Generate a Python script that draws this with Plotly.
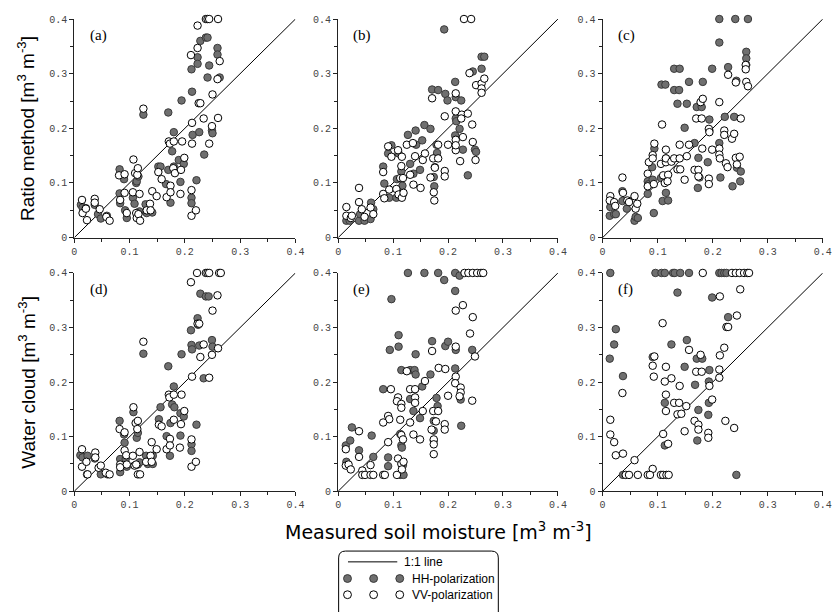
import plotly.graph_objects as go

# ---------------- data: (measured, estimated) soil moisture pairs ----------------
# Ratio method, HH / VV polarization
a_hh = [(0.012,0.060),(0.015,0.055),(0.021,0.054),(0.037,0.060),(0.043,0.043),(0.048,0.035),(0.059,0.040),
        (0.082,0.125),(0.082,0.081),(0.083,0.063),(0.090,0.107),(0.092,0.050),(0.095,0.036),(0.106,0.073),
        (0.109,0.062),(0.112,0.100),(0.113,0.103),(0.116,0.112),(0.118,0.048),(0.125,0.225),(0.129,0.061),
        (0.131,0.045),(0.141,0.046),(0.152,0.130),(0.156,0.130),(0.166,0.098),(0.170,0.229),(0.170,0.124),
        (0.174,0.064),(0.177,0.158),(0.180,0.193),(0.180,0.130),(0.189,0.142),(0.192,0.102),(0.194,0.251),
        (0.198,0.135),(0.212,0.308),(0.212,0.073),(0.212,0.063),(0.213,0.267),(0.214,0.188),(0.221,0.105),
        (0.223,0.330),(0.223,0.318),(0.226,0.193),(0.228,0.360),(0.235,0.152),(0.238,0.366),(0.241,0.366),
        (0.241,0.293),(0.244,0.315),(0.249,0.196),(0.250,0.191),(0.259,0.347),(0.259,0.335),(0.263,0.293)]
a_vv = [(0.014,0.069),(0.015,0.045),(0.021,0.053),(0.023,0.032),(0.037,0.071),(0.037,0.064),(0.046,0.052),
        (0.058,0.038),(0.064,0.031),(0.081,0.114),(0.083,0.069),(0.091,0.116),(0.091,0.082),(0.095,0.045),
        (0.107,0.143),(0.106,0.083),(0.110,0.118),(0.112,0.045),(0.113,0.036),(0.114,0.115),(0.115,0.127),
        (0.116,0.043),(0.118,0.080),(0.119,0.031),(0.125,0.236),(0.131,0.050),(0.137,0.062),(0.141,0.085),
        (0.138,0.050),(0.149,0.076),(0.152,0.120),(0.158,0.107),(0.167,0.074),(0.171,0.176),(0.173,0.172),
        (0.174,0.095),(0.174,0.083),(0.179,0.127),(0.180,0.176),(0.182,0.118),(0.192,0.080),(0.193,0.124),
        (0.195,0.176),(0.199,0.146),(0.211,0.334),(0.212,0.087),(0.212,0.040),(0.213,0.210),(0.213,0.172),
        (0.220,0.050),(0.223,0.388),(0.223,0.347),(0.225,0.246),(0.228,0.246),(0.234,0.218),(0.238,0.400),
        (0.241,0.400),(0.244,0.400),(0.244,0.172),(0.249,0.204),(0.250,0.262),(0.260,0.400),(0.260,0.219),
        (0.259,0.290),(0.263,0.323)]

b_hh = [(0.015,0.031),(0.021,0.031),(0.038,0.031),(0.040,0.043),(0.048,0.031),(0.060,0.064),(0.059,0.034),
        (0.064,0.052),(0.082,0.130),(0.084,0.099),(0.093,0.073),(0.091,0.154),(0.097,0.169),(0.106,0.073),
        (0.107,0.107),(0.110,0.154),(0.113,0.085),(0.117,0.095),(0.115,0.121),(0.118,0.080),(0.127,0.188),
        (0.131,0.135),(0.137,0.117),(0.141,0.196),(0.142,0.170),(0.149,0.124),(0.153,0.178),(0.157,0.206),
        (0.168,0.199),(0.171,0.271),(0.174,0.111),(0.175,0.094),(0.176,0.129),(0.179,0.170),(0.180,0.155),
        (0.182,0.270),(0.193,0.381),(0.195,0.263),(0.199,0.251),(0.213,0.285),(0.214,0.257),(0.214,0.218),
        (0.213,0.187),(0.215,0.213),(0.221,0.199),(0.224,0.251),(0.227,0.161),(0.236,0.114),(0.245,0.304),
        (0.249,0.161),(0.251,0.157),(0.261,0.309),(0.261,0.331),(0.266,0.331)]
b_vv = [(0.015,0.056),(0.015,0.040),(0.023,0.036),(0.025,0.040),(0.038,0.091),(0.038,0.065),(0.043,0.052),
        (0.048,0.038),(0.059,0.055),(0.064,0.043),(0.082,0.120),(0.082,0.080),(0.084,0.072),(0.091,0.167),
        (0.093,0.088),(0.097,0.148),(0.106,0.089),(0.109,0.160),(0.110,0.079),(0.113,0.109),(0.115,0.131),
        (0.116,0.148),(0.116,0.073),(0.119,0.082),(0.118,0.109),(0.125,0.170),(0.131,0.115),(0.136,0.173),
        (0.137,0.097),(0.140,0.149),(0.150,0.091),(0.154,0.142),(0.158,0.154),(0.168,0.110),(0.171,0.255),
        (0.173,0.145),(0.174,0.083),(0.175,0.068),(0.176,0.128),(0.182,0.170),(0.182,0.145),(0.194,0.222),
        (0.194,0.122),(0.194,0.112),(0.200,0.170),(0.214,0.264),(0.214,0.231),(0.214,0.179),(0.214,0.160),
        (0.214,0.169),(0.222,0.140),(0.225,0.225),(0.224,0.218),(0.227,0.184),(0.229,0.400),(0.236,0.227),
        (0.239,0.301),(0.242,0.400),(0.244,0.207),(0.245,0.175),(0.250,0.142),(0.251,0.279),(0.261,0.282),
        (0.261,0.273),(0.261,0.265),(0.266,0.291)]

c_hh = [(0.014,0.056),(0.013,0.040),(0.021,0.043),(0.024,0.043),(0.036,0.067),(0.036,0.085),(0.044,0.053),
        (0.048,0.067),(0.058,0.031),(0.060,0.038),(0.064,0.036),(0.082,0.080),(0.082,0.103),(0.084,0.098),
        (0.090,0.129),(0.091,0.106),(0.093,0.045),(0.094,0.163),(0.106,0.109),(0.107,0.280),(0.109,0.067),
        (0.114,0.280),(0.115,0.082),(0.119,0.068),(0.115,0.145),(0.130,0.309),(0.140,0.309),(0.130,0.270),
        (0.139,0.270),(0.136,0.245),(0.149,0.201),(0.153,0.245),(0.157,0.285),(0.167,0.173),(0.171,0.239),
        (0.173,0.091),(0.174,0.146),(0.176,0.110),(0.180,0.239),(0.182,0.285),(0.191,0.138),(0.194,0.216),
        (0.199,0.309),(0.212,0.400),(0.212,0.357),(0.212,0.173),(0.214,0.110),(0.228,0.312),(0.239,0.221),
        (0.236,0.094),(0.241,0.400),(0.243,0.287),(0.244,0.128),(0.250,0.103),(0.251,0.121),(0.264,0.400),
        (0.261,0.340),(0.261,0.328),(0.261,0.316),(0.222,0.221),(0.194,0.196)]
c_vv = [(0.014,0.076),(0.013,0.068),(0.021,0.065),(0.023,0.058),(0.036,0.110),(0.037,0.082),(0.045,0.068),
        (0.048,0.065),(0.058,0.076),(0.060,0.053),(0.063,0.062),(0.082,0.117),(0.082,0.094),(0.084,0.138),
        (0.091,0.151),(0.091,0.145),(0.093,0.098),(0.094,0.172),(0.106,0.135),(0.108,0.207),(0.110,0.114),
        (0.113,0.100),(0.115,0.161),(0.115,0.138),(0.115,0.145),(0.119,0.115),(0.118,0.103),(0.125,0.139),
        (0.130,0.145),(0.136,0.125),(0.141,0.125),(0.140,0.170),(0.140,0.145),(0.149,0.106),(0.153,0.149),
        (0.157,0.170),(0.167,0.124),(0.170,0.218),(0.174,0.124),(0.174,0.112),(0.178,0.248),(0.180,0.218),
        (0.182,0.254),(0.181,0.163),(0.193,0.199),(0.194,0.193),(0.193,0.108),(0.193,0.098),(0.199,0.161),
        (0.212,0.248),(0.212,0.163),(0.212,0.152),(0.213,0.145),(0.221,0.196),(0.221,0.188),(0.224,0.136),
        (0.227,0.129),(0.228,0.298),(0.235,0.181),(0.239,0.190),(0.242,0.284),(0.242,0.146),(0.244,0.134),
        (0.249,0.148),(0.251,0.218),(0.260,0.316),(0.260,0.308),(0.261,0.285),(0.264,0.277)]

# Water cloud model, HH / VV polarization
d_hh = [(0.011,0.066),(0.015,0.062),(0.024,0.065),(0.037,0.060),(0.023,0.031),(0.048,0.031),(0.060,0.031),
        (0.082,0.129),(0.083,0.059),(0.083,0.035),(0.090,0.104),(0.091,0.089),(0.093,0.059),(0.095,0.045),
        (0.107,0.145),(0.113,0.098),(0.115,0.107),(0.115,0.049),(0.118,0.053),(0.125,0.252),(0.130,0.065),
        (0.133,0.050),(0.142,0.050),(0.142,0.065),(0.153,0.132),(0.156,0.154),(0.167,0.101),(0.170,0.229),
        (0.173,0.065),(0.174,0.125),(0.177,0.159),(0.180,0.192),(0.181,0.154),(0.192,0.143),(0.192,0.102),
        (0.194,0.251),(0.198,0.137),(0.211,0.295),(0.212,0.268),(0.213,0.260),(0.212,0.086),(0.212,0.074),
        (0.221,0.122),(0.223,0.317),(0.224,0.305),(0.228,0.362),(0.226,0.267),(0.234,0.207),(0.238,0.357),
        (0.243,0.357),(0.249,0.277),(0.250,0.265)]
d_vv = [(0.014,0.077),(0.014,0.045),(0.022,0.054),(0.024,0.031),(0.038,0.071),(0.038,0.062),(0.044,0.043),
        (0.048,0.047),(0.057,0.034),(0.064,0.031),(0.082,0.114),(0.083,0.049),(0.083,0.044),(0.091,0.108),
        (0.091,0.075),(0.094,0.066),(0.095,0.049),(0.106,0.065),(0.107,0.154),(0.109,0.047),(0.111,0.125),
        (0.112,0.049),(0.115,0.129),(0.114,0.114),(0.115,0.031),(0.119,0.031),(0.118,0.072),(0.125,0.274),
        (0.130,0.054),(0.138,0.065),(0.140,0.054),(0.140,0.090),(0.149,0.077),(0.153,0.122),(0.158,0.119),
        (0.167,0.077),(0.171,0.177),(0.172,0.172),(0.173,0.096),(0.173,0.084),(0.180,0.131),(0.180,0.177),
        (0.191,0.080),(0.193,0.123),(0.194,0.177),(0.199,0.147),(0.211,0.383),(0.212,0.095),(0.213,0.210),
        (0.212,0.045),(0.220,0.054),(0.222,0.400),(0.223,0.307),(0.226,0.307),(0.228,0.246),(0.234,0.269),
        (0.238,0.400),(0.241,0.400),(0.244,0.400),(0.244,0.208),(0.249,0.250),(0.250,0.331),(0.259,0.359),
        (0.260,0.262),(0.262,0.400),(0.265,0.400)]

e_hh = [(0.127,0.400),(0.157,0.400),(0.182,0.400),(0.213,0.400),(0.221,0.395),(0.193,0.387),(0.097,0.352),
        (0.213,0.367),(0.110,0.286),(0.110,0.265),(0.094,0.259),(0.141,0.251),(0.171,0.275),(0.195,0.266),
        (0.200,0.274),(0.214,0.259),(0.244,0.259),(0.115,0.222),(0.131,0.222),(0.139,0.222),(0.141,0.214),
        (0.153,0.192),(0.168,0.214),(0.213,0.225),(0.082,0.187),(0.131,0.169),(0.137,0.147),(0.149,0.134),
        (0.179,0.171),(0.181,0.156),(0.174,0.129),(0.174,0.111),(0.223,0.168),(0.224,0.120),(0.113,0.105),
        (0.014,0.084),(0.022,0.093),(0.025,0.117),(0.015,0.054),(0.038,0.075),(0.061,0.102),(0.064,0.063),
        (0.091,0.062),(0.091,0.046),(0.115,0.084),(0.116,0.080),(0.113,0.030),(0.119,0.030),(0.118,0.048),
        (0.174,0.093)]
e_vv = [(0.230,0.400),(0.237,0.400),(0.245,0.400),(0.253,0.400),(0.260,0.400),(0.264,0.400),
        (0.214,0.331),(0.227,0.341),(0.245,0.319),(0.240,0.289),(0.214,0.265),(0.249,0.247),(0.171,0.257),
        (0.183,0.226),(0.195,0.224),(0.214,0.210),(0.213,0.198),(0.223,0.190),(0.223,0.181),(0.221,0.174),
        (0.200,0.175),(0.244,0.166),(0.158,0.202),(0.125,0.220),(0.131,0.187),(0.140,0.187),(0.096,0.187),
        (0.109,0.172),(0.107,0.165),(0.115,0.160),(0.115,0.153),(0.140,0.172),(0.140,0.162),(0.091,0.138),
        (0.093,0.132),(0.082,0.126),(0.113,0.131),(0.131,0.126),(0.154,0.147),(0.173,0.147),(0.182,0.147),
        (0.178,0.128),(0.170,0.113),(0.194,0.123),(0.194,0.113),(0.091,0.090),(0.038,0.110),(0.137,0.104),
        (0.149,0.095),(0.174,0.095),(0.174,0.086),(0.174,0.068),(0.115,0.103),(0.118,0.095),
        (0.014,0.077),(0.014,0.047),(0.019,0.049),(0.023,0.040),(0.038,0.063),(0.044,0.038),(0.044,0.030),
        (0.049,0.030),(0.059,0.048),(0.059,0.030),(0.064,0.030),(0.082,0.030),(0.085,0.030),(0.107,0.030),
        (0.109,0.060),(0.115,0.050),(0.116,0.040),(0.119,0.054)]

f_hh = [(0.014,0.400),(0.096,0.400),(0.107,0.400),(0.113,0.400),(0.128,0.400),(0.131,0.400),(0.141,0.400),
        (0.157,0.400),(0.212,0.400),(0.216,0.400),(0.221,0.400),(0.225,0.400),
        (0.136,0.364),(0.199,0.355),(0.024,0.297),(0.021,0.269),(0.013,0.243),(0.037,0.211),(0.228,0.319),
        (0.125,0.269),(0.153,0.277),(0.091,0.246),(0.149,0.228),(0.171,0.243),(0.181,0.243),(0.194,0.222),
        (0.193,0.201),(0.168,0.195),(0.113,0.162),(0.193,0.162),(0.174,0.149),(0.192,0.140),(0.172,0.093),
        (0.113,0.084),(0.243,0.030),(0.037,0.030)]
f_vv = [(0.182,0.400),(0.235,0.400),(0.242,0.400),(0.249,0.400),(0.257,0.400),(0.263,0.400),(0.266,0.400),
        (0.250,0.370),(0.213,0.357),(0.244,0.322),(0.225,0.301),(0.228,0.301),(0.109,0.308),(0.221,0.263),
        (0.213,0.249),(0.157,0.259),(0.094,0.247),(0.091,0.230),(0.115,0.228),(0.093,0.210),(0.125,0.207),
        (0.113,0.201),(0.140,0.193),(0.170,0.219),(0.180,0.219),(0.178,0.250),(0.212,0.223),(0.212,0.208),
        (0.194,0.193),(0.199,0.168),(0.115,0.177),(0.115,0.147),(0.130,0.162),(0.139,0.162),(0.152,0.156),
        (0.136,0.141),(0.143,0.142),(0.036,0.180),(0.014,0.131),(0.014,0.104),(0.021,0.090),(0.024,0.066),
        (0.037,0.069),(0.058,0.057),(0.091,0.041),(0.110,0.105),(0.119,0.087),(0.149,0.110),(0.167,0.129),
        (0.174,0.122),(0.174,0.113),(0.192,0.107),(0.192,0.098),(0.223,0.129),(0.239,0.116),
        (0.042,0.030),(0.048,0.030),(0.064,0.030),(0.082,0.030),(0.086,0.030),(0.106,0.030),(0.110,0.030),
        (0.116,0.030),(0.120,0.030)]

panel_letters = ["(a)", "(b)", "(c)", "(d)", "(e)", "(f)"]
panel_series = [(a_hh, a_vv), (b_hh, b_vv), (c_hh, c_vv), (d_hh, d_vv), (e_hh, e_vv), (f_hh, f_vv)]
row_titles = ["Ratio method [m<sup>3</sup> m<sup>-3</sup>]", "Water cloud [m<sup>3</sup> m<sup>-3</sup>]"]
x_title = "Measured soil moisture [m<sup>3</sup> m<sup>-3</sup>]"
tick_vals = [0, 0.1, 0.2, 0.3, 0.4]
tick_text = ["0", "0.1", "0.2", "0.3", "0.4"]
minor_vals = [0.05, 0.15, 0.25, 0.35]
legend_labels = ["1:1 line", "HH-polarization", "VV-polarization"]

# ---------------- layout geometry (pixels) ----------------
W, H = 839, 612
col_px = [(72.3, 296.7), (340.0, 563.0), (608.3, 831.7)]
row_px = [(14.3, 237.3), (273.3, 496.0)]

def px_x(p):
    return p / W

def px_y(p):
    return 1 - p / H

HH_FILL, HH_LINE = "#6f6f6f", "#3a3a3a"
AX = "#222222"
TICK_FONT = dict(family="Liberation Mono, Courier New, monospace", size=10, color="#444444")
MSIZE = 7.5

fig = go.Figure()
layout = dict(
    width=W, height=H, margin=dict(l=0, r=0, t=0, b=0),
    paper_bgcolor="white", plot_bgcolor="white", showlegend=False,
)
annotations = []
shapes = []

for i, (hh, vv) in enumerate(panel_series):
    r, c = divmod(i, 3)
    n = i + 1
    xa, ya = f"x{n}", f"y{n}"
    axis_common = dict(
        range=[0, 0.4], showgrid=False, zeroline=False, showline=True,
        linecolor=AX, linewidth=1, ticks="outside", ticklen=4, tickwidth=1, tickcolor=AX,
        tickmode="array", tickvals=tick_vals, ticktext=tick_text, tickfont=TICK_FONT,
        minor=dict(tickmode="array", tickvals=minor_vals, ticks="outside", ticklen=3,
                   tickwidth=1, tickcolor=AX, showgrid=False),
        fixedrange=True,
    )
    layout[f"xaxis{n}"] = dict(axis_common, domain=[px_x(col_px[c][0]), px_x(col_px[c][1])], anchor=ya)
    layout[f"yaxis{n}"] = dict(axis_common, domain=[px_y(row_px[r][1]), px_y(row_px[r][0])], anchor=xa)

    # 1:1 line
    shapes.append(dict(type="line", xref=xa, yref=ya, x0=0, y0=0, x1=0.4, y1=0.4,
                       line=dict(color="black", width=1), layer="below"))

    fig.add_trace(go.Scatter(
        x=[p[0] for p in hh], y=[p[1] for p in hh], mode="markers", xaxis=xa, yaxis=ya,
        cliponaxis=False, name="HH-polarization",
        marker=dict(size=MSIZE, color=HH_FILL, line=dict(color=HH_LINE, width=1)),
    ))
    fig.add_trace(go.Scatter(
        x=[p[0] for p in vv], y=[p[1] for p in vv], mode="markers", xaxis=xa, yaxis=ya,
        cliponaxis=False, name="VV-polarization",
        marker=dict(size=MSIZE, color="white", line=dict(color="black", width=1)),
    ))

    annotations.append(dict(text=panel_letters[i], xref=xa, yref=ya, x=0.024, y=0.369,
                            xanchor="left", yanchor="middle", showarrow=False,
                            font=dict(family="Liberation Serif, Times New Roman, serif", size=15, color="black")))

# row titles (y) and common x title
for r, title in enumerate(row_titles):
    yc = (row_px[r][0] + row_px[r][1]) / 2
    annotations.append(dict(text=title, xref="paper", yref="paper", x=px_x(24), y=px_y(yc),
                            textangle=-90, showarrow=False, xanchor="center", yanchor="middle",
                            font=dict(family="Liberation Sans, Arial, sans-serif", size=19, color="black")))
annotations.append(dict(text=x_title, xref="paper", yref="paper", x=px_x(442), y=px_y(537),
                        showarrow=False, xanchor="center", yanchor="middle",
                        font=dict(family="DejaVu Sans, Verdana, sans-serif", size=19, color="black")))

# ---------------- legend box (paper coordinates from pixel positions) ----------------
bx0, bx1, by0, by1, rad = 340.5, 502.5, 557.0, 640.0, 7

def pt(x, y):
    return f"{px_x(x):.5f},{px_y(y):.5f}"

box_path = (f"M {pt(bx0 + rad, by0)} L {pt(bx1 - rad, by0)} Q {pt(bx1, by0)} {pt(bx1, by0 + rad)} "
            f"L {pt(bx1, by1)} L {pt(bx0, by1)} L {pt(bx0, by0 + rad)} Q {pt(bx0, by0)} {pt(bx0 + rad, by0)} Z")
shapes.append(dict(type="path", xref="paper", yref="paper", path=box_path,
                   line=dict(color="black", width=1), fillcolor="rgba(0,0,0,0)"))
shapes.append(dict(type="line", xref="paper", yref="paper", x0=px_x(350), x1=px_x(400),
                   y0=px_y(568), y1=px_y(568), line=dict(color="black", width=1)))

legend_mx = [349.5, 376.0, 402.5]
rad_m = 4.0
for cy, fill, edge in [(585.0, HH_FILL, HH_LINE), (601.5, "white", "black")]:
    for cx in legend_mx:
        shapes.append(dict(type="circle", xref="paper", yref="paper",
                           x0=px_x(cx - rad_m), x1=px_x(cx + rad_m),
                           y0=px_y(cy + rad_m), y1=px_y(cy - rad_m),
                           fillcolor=fill, line=dict(color=edge, width=1)))

for txt, tx, ty in zip(legend_labels, [405, 413, 413], [568, 585, 601.5]):
    annotations.append(dict(text=txt, xref="paper", yref="paper", x=px_x(tx), y=px_y(ty),
                            xanchor="left", yanchor="middle", showarrow=False,
                            font=dict(family="Liberation Sans, Arial, sans-serif", size=12, color="black")))

layout["annotations"] = annotations
layout["shapes"] = shapes
fig.update_layout(**layout)
fig.write_html("out.html")
